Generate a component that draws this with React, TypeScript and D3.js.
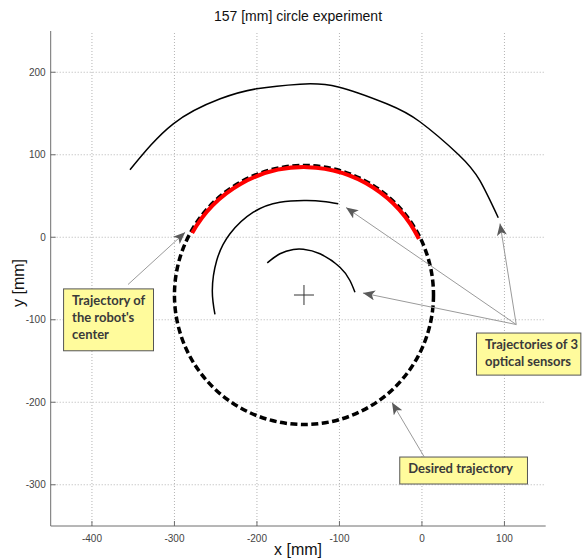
import React, { useEffect, useRef } from 'react';
import * as d3 from 'd3';

// axes
const xDomain = [-450, 150];
const yDomain = [-350, 250];
const xTicks = [-400, -300, -200, -100, 0, 100];
const yTicks = [-300, -200, -100, 0, 100, 200];

// desired trajectory (circle) and robot center arc
const center = [-143, -70];
const desiredRadius = 157;
const robotRadius = 155;
const robotArcDeg = [151, 26];

// optical sensor trajectories
const outerX = [-353.9, -301.4, -244.5, -200.3, -147.8, -101.4, -42.7, -2.5, 44.5, 70.1, 92.5];
const outerY = [81.8, 137.5, 167.8, 180, 185.6, 182.2, 161.8, 140, 100, 68.8, 23.6];
const middleX = [-250.9, -254.1, -248.8, -232.7, -204.4, -172.2, -139.7, -119.6, -101.4];
const middleY = [-93.6, -64.5, -28.2, 4.2, 30.4, 42.5, 44.5, 43.3, 40.5];
const innerX = [-187.5, -172.1, -155.9, -143.8, -123.6, -99.4, -87.3, -81.2];
const innerY = [-31, -20, -14.8, -14.5, -20, -36.3, -52.4, -66.6];

// annotations (data units)
const boxes = [
  { x0: -435, y0: -62, x1: -326, y1: -137, lines: ['Trajectory of', "the robot's", 'center'] },
  { x0: 65.5, y0: -115.5, x1: 192, y1: -166.5, lines: ['Trajectories of 3', 'optical sensors'] },
  { x0: -27.5, y0: -265.8, x1: 127.3, y1: -298.5, lines: ['Desired trajectory'] },
];
const arrows = [
  { from: [-356.3, -57.3], to: [-287, 6] },
  { from: [114.3, -105.8], to: [-92, 36] },
  { from: [114.3, -105.8], to: [-71.5, -67.6] },
  { from: [114.3, -105.8], to: [94.6, 16.7] },
  { from: [2.5, -265.8], to: [-36.3, -200.3] },
];

export default function App() {
  const svgRef = useRef<SVGSVGElement>(null);
  const width = 584;
  const height = 560;

  useEffect(() => {
    const x = d3.scaleLinear().domain(xDomain).range([50.7, 545.7]);
    const y = d3.scaleLinear().domain(yDomain).range([526, 31]);

    const svg = d3.select(svgRef.current);
    svg.selectAll('*').remove();

    const defs = svg.append('defs');
    defs.append('marker')
      .attr('id', 'head')
      .attr('viewBox', '0 0 12 10')
      .attr('refX', 12)
      .attr('refY', 5)
      .attr('markerWidth', 12)
      .attr('markerHeight', 10)
      .attr('markerUnits', 'userSpaceOnUse')
      .attr('orient', 'auto')
      .append('path')
      .attr('d', 'M0,0 L12,5 L0,10 L3,5 Z')
      .attr('fill', '#5a5a5a');

    // grid
    const grid = svg.append('g');
    grid.selectAll('.gx').data(xTicks).enter().append('line')
      .attr('x1', d => x(d)).attr('x2', d => x(d))
      .attr('y1', y(yDomain[0])).attr('y2', y(yDomain[1]))
      .attr('stroke', '#b4b4b4').attr('stroke-dasharray', '1 2');
    grid.selectAll('.gy').data(yTicks).enter().append('line')
      .attr('y1', d => y(d)).attr('y2', d => y(d))
      .attr('x1', x(xDomain[0])).attr('x2', x(xDomain[1]))
      .attr('stroke', '#b4b4b4').attr('stroke-dasharray', '1 2');

    // axes
    const ax = svg.append('g').attr('stroke', '#6e6e6e');
    ax.append('line').attr('x1', x(xDomain[0])).attr('x2', x(xDomain[1]))
      .attr('y1', y(yDomain[0])).attr('y2', y(yDomain[0]));
    ax.append('line').attr('x1', x(xDomain[0])).attr('x2', x(xDomain[0]))
      .attr('y1', y(yDomain[0])).attr('y2', y(yDomain[1]));
    ax.selectAll('.tx').data(xTicks).enter().append('line')
      .attr('x1', d => x(d)).attr('x2', d => x(d))
      .attr('y1', y(yDomain[0])).attr('y2', y(yDomain[0]) - 5);
    ax.selectAll('.ty').data(yTicks).enter().append('line')
      .attr('y1', d => y(d)).attr('y2', d => y(d))
      .attr('x1', x(xDomain[0])).attr('x2', x(xDomain[0]) + 5);

    const labels = svg.append('g')
      .attr('font-family', 'Liberation Sans, Arial, sans-serif')
      .attr('font-size', 10).attr('fill', '#444');
    labels.selectAll('.lx').data(xTicks).enter().append('text')
      .attr('x', d => x(d)).attr('y', y(yDomain[0]) + 16)
      .attr('text-anchor', 'middle').text(d => d);
    labels.selectAll('.ly').data(yTicks).enter().append('text')
      .attr('x', x(xDomain[0]) - 5).attr('y', d => y(d) + 3.5)
      .attr('text-anchor', 'end').text(d => d);

    // desired circle
    const cx = x(center[0]);
    const cy = y(center[1]);
    const rPx = x(center[0] + desiredRadius) - cx;
    svg.append('circle')
      .attr('cx', cx).attr('cy', cy).attr('r', rPx)
      .attr('fill', 'none').attr('stroke', '#000')
      .attr('stroke-width', 3.5).attr('stroke-dasharray', '7 3.5');

    // robot center arc
    const rr = x(center[0] + robotRadius) - cx;
    const p = d3.path();
    const a0 = -robotArcDeg[0] * Math.PI / 180;
    const a1 = -robotArcDeg[1] * Math.PI / 180;
    p.moveTo(cx + rr * Math.cos(a0), cy + rr * Math.sin(a0));
    p.arc(cx, cy, rr, a0, a1, false);
    svg.append('path').attr('d', p.toString())
      .attr('fill', 'none').attr('stroke', '#ff0000').attr('stroke-width', 4);

    // sensor trajectories
    const line = d3.line<number[]>()
      .x(d => d[0]).y(d => d[1])
      .curve(d3.curveNatural);
    const sensors = [[outerX, outerY], [middleX, middleY], [innerX, innerY]];
    sensors.forEach(([xs, ys]) => {
      const pts = xs.map((v, i) => [x(v), y(ys[i])]);
      svg.append('path').attr('d', line(pts))
        .attr('fill', 'none').attr('stroke', '#000').attr('stroke-width', 1.5);
    });

    // center cross
    svg.append('path')
      .attr('d', `M${cx - 10},${cy}H${cx + 10}M${cx},${cy - 10}V${cy + 10}`)
      .attr('stroke', '#333').attr('stroke-width', 1);

    // arrows
    svg.selectAll('.arrow').data(arrows).enter().append('line')
      .attr('x1', d => x(d.from[0])).attr('y1', d => y(d.from[1]))
      .attr('x2', d => x(d.to[0])).attr('y2', d => y(d.to[1]))
      .attr('stroke', '#9a9a9a').attr('stroke-width', 1)
      .attr('marker-end', 'url(#head)');

    // annotation boxes
    boxes.forEach(b => {
      const g = svg.append('g');
      g.append('rect')
        .attr('x', x(b.x0) + 0.5).attr('y', y(b.y0) + 0.5)
        .attr('width', x(b.x1) - x(b.x0)).attr('height', y(b.y1) - y(b.y0))
        .attr('fill', '#fffb9c').attr('stroke', '#555').attr('stroke-width', 1);
      b.lines.forEach((t, i) => {
        g.append('text')
          .attr('x', x(b.x0) + 9).attr('y', y(b.y0) + 16.5 + i * 17)
          .attr('font-family', 'Lato, sans-serif').attr('font-weight', 700)
          .attr('font-size', 13).attr('fill', '#3a3a3a')
          .text(t);
      });
    });

    // titles
    svg.append('text')
      .attr('x', 298).attr('y', 21).attr('text-anchor', 'middle')
      .attr('font-family', 'Liberation Sans, Arial, sans-serif')
      .attr('font-size', 14).attr('fill', '#111')
      .text('157 [mm] circle experiment');
    svg.append('text')
      .attr('x', 298).attr('y', 555).attr('text-anchor', 'middle')
      .attr('font-family', 'Liberation Sans, Arial, sans-serif')
      .attr('font-size', 16).attr('fill', '#111')
      .text('x [mm]');
    svg.append('text')
      .attr('transform', 'translate(24,283) rotate(-90)').attr('text-anchor', 'middle')
      .attr('font-family', 'Liberation Sans, Arial, sans-serif')
      .attr('font-size', 16).attr('fill', '#111')
      .text('y [mm]');
  }, []);

  return (
    <svg ref={svgRef} width={width} height={height}
      style={{ position: 'absolute', left: 0, top: 0, background: '#fff' }} />
  );
}
